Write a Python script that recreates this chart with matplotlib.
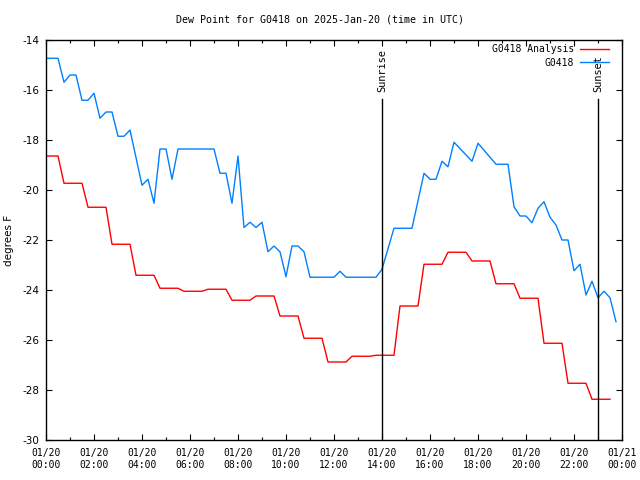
import numpy as np
import matplotlib
matplotlib.use("Agg")
import matplotlib.pyplot as plt
from matplotlib.ticker import MultipleLocator

#data (time in hours UTC, dew point in F)
station = "G0418"

obs_hours = [0.0, 0.5, 0.75, 1.0, 1.25, 1.5, 1.75, 2.0, 2.25, 2.5, 2.75, 3.0, 3.25, 3.5,
             4.0, 4.25, 4.5, 4.75, 5.0, 5.25, 5.5, 7.0, 7.25, 7.5, 7.75, 8.0, 8.25, 8.5,
             8.75, 9.0, 9.25, 9.5, 9.75, 10.0, 10.25, 10.5, 10.75, 11.0, 12.0, 12.25,
             12.5, 13.75, 14.0, 14.5, 15.25, 15.75, 16.0, 16.25, 16.5, 16.75, 17.0,
             17.75, 18.0, 18.75, 19.25, 19.5, 19.75, 20.0, 20.25, 20.5, 20.75, 21.0,
             21.25, 21.5, 21.75, 22.0, 22.25, 22.5, 22.75, 23.0, 23.25, 23.5, 23.75]
obs_dewpt = [-14.73, -14.73, -15.69, -15.4, -15.4, -16.41, -16.41, -16.13, -17.13, -16.88,
             -16.88, -17.85, -17.85, -17.6, -19.81, -19.57, -20.53, -18.36, -18.36, -19.57,
             -18.36, -18.36, -19.33, -19.33, -20.53, -18.64, -21.5, -21.29, -21.5, -21.29,
             -22.47, -22.24, -22.47, -23.47, -22.24, -22.24, -22.47, -23.49, -23.49, -23.25,
             -23.49, -23.49, -23.17, -21.53, -21.53, -19.33, -19.57, -19.57, -18.85, -19.07,
             -18.09, -18.85, -18.13, -18.97, -18.97, -20.67, -21.04, -21.04, -21.31, -20.73,
             -20.47, -21.09, -21.4, -22.0, -22.0, -23.23, -22.97, -24.2, -23.65, -24.31,
             -24.05, -24.31, -25.27]

#hourly analysis values, each held from hh-0:15 to hh+0:30
anl_hours = list(range(24))
anl_dewpt = [-18.64, -19.73, -20.69, -22.17, -23.41, -23.93, -24.05, -23.97, -24.41, -24.24,
             -25.04, -25.93, -26.88, -26.65, -26.61, -24.64, -22.97, -22.49, -22.84, -23.75,
             -24.33, -26.13, -27.73, -28.37]

sunrise = 14.0
sunset = 23.0

tick_hours = list(range(0, 25, 2))
tick_labels = ["01/20\n%02d:00" % h for h in tick_hours[:-1]] + ["01/21\n00:00"]

#building the step line for the analysis
anl_x = []
anl_y = []
for h, v in zip(anl_hours, anl_dewpt):
    start = 0.0 if h == 0 else h - 0.25
    anl_x += [start, h + 0.5]
    anl_y += [v, v]

mono = "DejaVu Sans Mono"
fig = plt.figure(figsize=(6.4, 4.8), dpi=100)
ax = fig.add_axes([46 / 640, 40 / 480, 576 / 640, 400 / 480])

ax.plot(anl_x, anl_y, color="#ff0000", lw=1.0, label=station + " Analysis")
ax.plot(obs_hours, obs_dewpt, color="#0080ff", lw=1.0, label=station)

#sunrise / sunset markers
for t, name in [(sunrise, "Sunrise"), (sunset, "Sunset")]:
    ax.plot([t, t], [-30, -16.36], color="black", lw=1.0)
    ax.text(t, -16.1, name, rotation=90, ha="center", va="bottom",
            fontsize=7.4, family=mono)

ax.set_xlim(0, 24)
ax.set_ylim(-30, -14)
ax.set_xticks(tick_hours)
ax.set_xticklabels(tick_labels, family=mono, fontsize=7)
ax.xaxis.set_minor_locator(MultipleLocator(1))
ax.set_yticks(np.arange(-30, -13, 2))
ax.set_yticklabels([str(v) for v in range(-30, -13, 2)], fontsize=7.5)
ax.tick_params(which="both", direction="in", top=True, right=True, width=0.8)
ax.tick_params(which="major", length=4)
ax.tick_params(which="minor", length=2.5)
ax.tick_params(axis="x", pad=6)
ax.tick_params(axis="y", pad=5)
for s in ax.spines.values():
    s.set_linewidth(1.0)

ax.set_ylabel("degrees F", fontsize=7.5, labelpad=6)
fig.text(0.5, 1 - 20 / 480, "Dew Point for %s on 2025-Jan-20 (time in UTC)" % station,
         ha="center", va="center", fontsize=7.2, family=mono)

leg = ax.legend(loc="upper right", bbox_to_anchor=(1 - 13 / 576, 1 - 4.5 / 400),
                frameon=False, markerfirst=False,
                prop={"family": mono, "size": 7}, handlelength=3.0,
                borderaxespad=0, borderpad=0, labelspacing=0.33, handletextpad=0.62)

fig.savefig("out.png", dpi=100)
